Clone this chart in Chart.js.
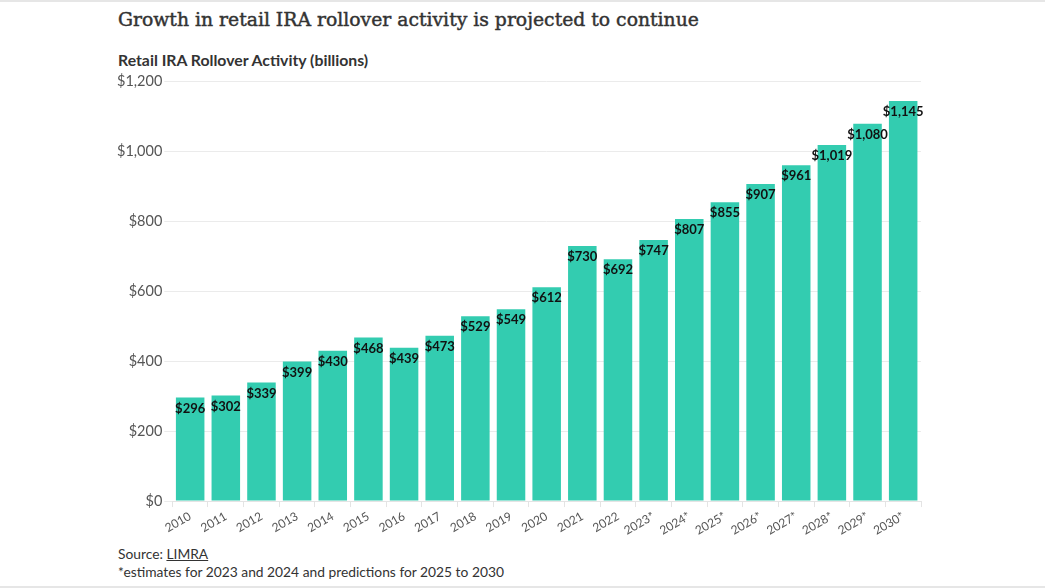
<!DOCTYPE html>
<html>
<head>
<meta charset="utf-8">
<script src="https://cdn.jsdelivr.net/npm/chart.js@4"></script>
<style>
  html, body { margin: 0; padding: 0; background: #fff; }
  body { width: 1045px; height: 588px; position: relative; overflow: hidden;
         border-top: 2px solid #e6e6e6; border-bottom: 2px solid #e6e6e6; box-sizing: border-box; }
  #title { position: absolute; left: 118px; top: 7px; font-family: "DejaVu Serif", serif; font-weight: normal;
           font-size: 18.8px; color: #333; -webkit-text-stroke: 0.45px #333; }
  #subtitle { position: absolute; left: 118px; top: 48px; font-family: Lato, sans-serif; font-weight: bold;
              font-size: 15.8px; color: #333; }
  #wrap { position: absolute; left: 115px; top: 69px; width: 825px; height: 469px; }
  #foot { position: absolute; left: 118px; top: 543px; font-family: Lato, sans-serif; font-size: 13.8px;
          color: #333; line-height: 18px; }
  #foot u { text-decoration: underline; }
</style>
</head>
<body>
<div id="title">Growth in retail IRA rollover activity is projected to continue</div>
<div id="subtitle">Retail IRA Rollover Activity (billions)</div>
<div id="wrap"><canvas id="myChart"></canvas></div>
<div id="foot">Source: <u>LIMRA</u><br>*estimates for 2023 and 2024 and predictions for 2025 to 2030</div>
<script>
const years = ['2010','2011','2012','2013','2014','2015','2016','2017','2018','2019','2020',
  '2021','2022','2023*','2024*','2025*','2026*','2027*','2028*','2029*','2030*'];
const rollovers = [296, 302, 339, 399, 430, 468, 439, 473, 529, 549, 612,
  730, 692, 747, 807, 855, 907, 961, 1019, 1080, 1145];
const yTicks = [0, 200, 400, 600, 800, 1000, 1200];

let money = (v) => '$' + v.toLocaleString('en-US');

// etiquetas dentro de la barra
const barLabels = {
  id: 'barLabels',
  afterDatasetsDraw(chart) {
    const ctx = chart.ctx;
    const meta = chart.getDatasetMeta(0);
    ctx.save();
    ctx.font = 'bold 13px Lato';
    ctx.fillStyle = '#111';
    ctx.textAlign = 'center';
    ctx.textBaseline = 'middle';
    meta.data.forEach((bar, i) => {
      ctx.fillText(money(rollovers[i]), bar.x, bar.y + 11);
    });
    ctx.restore();
  }
};

const ctx = document.getElementById('myChart');
const chart = new Chart(ctx, {
  type: 'bar',
  data: {
    labels: years,
    datasets: [{
      data: rollovers,
      backgroundColor: '#33ccb0',
      borderWidth: 0,
      barPercentage: 0.8,
      categoryPercentage: 1
    }]
  },
  options: {
    responsive: true,
    maintainAspectRatio: false,
    animation: false,
    layout: { padding: { top: 8, right: 19, left: 0, bottom: 0 } },
    plugins: { legend: { display: false }, tooltip: { enabled: false } },
    scales: {
      x: {
        grid: { display: true, drawOnChartArea: false, drawTicks: true, tickLength: 6, color: '#e4e4e4', offset: true },
        border: { color: '#e4e4e4' },
        ticks: { font: { family: 'Lato', size: 12 }, color: '#555', minRotation: 30, maxRotation: 30, padding: 2 }
      },
      y: {
        min: 0, max: 1200,
        afterBuildTicks: (axis) => { axis.ticks = yTicks.map(v => ({ value: v })); },
        grid: { color: '#ebebeb', tickLength: 8 },
        border: { display: false },
        ticks: { font: { family: 'Lato', size: 14.5 }, color: '#555', padding: 2,
                 callback: (v) => money(v) }
      }
    }
  },
  plugins: [barLabels]
});
</script>
</body>
</html>
